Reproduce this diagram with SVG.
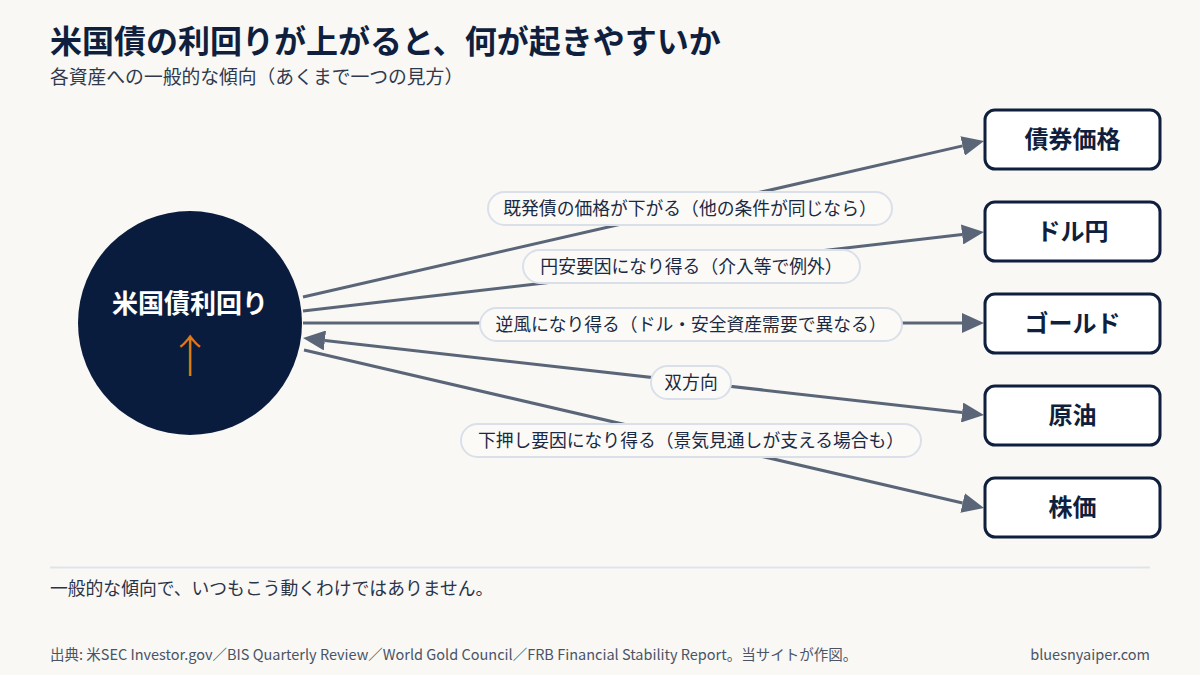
<svg xmlns="http://www.w3.org/2000/svg" width="1200" height="675" viewBox="0 0 1200 675">
<defs>
<style>
.jp{font-family:"Noto Sans CJK JP","Noto Sans",sans-serif;}
.title{font-size:32px;font-weight:700;fill:#0f1f3d;}
.sub{font-size:18.8px;fill:#2f3a4d;}
.box{fill:#ffffff;stroke:#0f1f3d;stroke-width:3;}
.boxt{font-size:24px;font-weight:700;fill:#0f1f3d;text-anchor:middle;}
.conn{stroke:#5a6678;stroke-width:3;fill:none;}
.pill{fill:#fbfaf7;stroke:#d9e0ea;stroke-width:2;}
.pillt{font-size:17.8px;fill:#1a2a44;text-anchor:middle;}
.note{font-size:17.8px;fill:#2a3448;}
.src{font-size:14.5px;fill:#4a5466;}
</style>
<marker id="ah" markerUnits="userSpaceOnUse" viewBox="0 0 22 20" markerWidth="22" markerHeight="20" refX="0" refY="10" orient="auto-start-reverse">
<path d="M0,0 L22,10 L0,20 z" fill="#5a6678"/>
</marker>
</defs>
<rect width="1200" height="675" fill="#f9f8f5"/>
<g id="header">
<text class="jp title" x="50" y="53">米国債の利回りが上がると、何が起きやすいか</text>
<text class="jp sub" x="50" y="84">各資産への一般的な傾向（あくまで一つの見方）</text>
</g>
<g id="connectors">
<line class="conn" x1="303" y1="297" x2="962.6" y2="145.9" marker-end="url(#ah)"/>
<line class="conn" x1="303" y1="311" x2="962.1" y2="234.5" marker-end="url(#ah)"/>
<line class="conn" x1="303" y1="323" x2="962" y2="323" marker-end="url(#ah)"/>
<line class="conn" x1="324.9" y1="340.5" x2="962.1" y2="412.5" marker-start="url(#ah)" marker-end="url(#ah)"/>
<line class="conn" x1="304" y1="350" x2="962.6" y2="503" marker-end="url(#ah)"/>
</g>
<g id="labels">
<g id="label-bond"><rect class="pill" x="488" y="192" width="404" height="33" rx="16.5"/><text class="jp pillt" x="690" y="214.5">既発債の価格が下がる（他の条件が同じなら）</text></g>
<g id="label-usdjpy"><rect class="pill" x="523" y="250" width="337" height="33" rx="16.5"/><text class="jp pillt" x="691.5" y="272.5">円安要因になり得る（介入等で例外）</text></g>
<g id="label-gold"><rect class="pill" x="480" y="308" width="422" height="33" rx="16.5"/><text class="jp pillt" x="691" y="330.5">逆風になり得る（ドル・安全資産需要で異なる）</text></g>
<g id="label-oil"><rect class="pill" x="651" y="366" width="80" height="33" rx="16.5"/><text class="jp pillt" x="691" y="388.5">双方向</text></g>
<g id="label-stock"><rect class="pill" x="461" y="424" width="460" height="33" rx="16.5"/><text class="jp pillt" x="691" y="446.5">下押し要因になり得る（景気見通しが支える場合も）</text></g>
</g>
<g id="node-yield">
<circle cx="190" cy="323" r="112" fill="#0a1c3e"/>
<text class="jp" x="190" y="313" font-size="26" font-weight="700" fill="#ffffff" text-anchor="middle">米国債利回り</text>
<text class="jp" x="190" y="373" font-size="45" font-weight="300" fill="#e07b12" text-anchor="middle">↑</text>
</g>
<g id="node-bond"><rect class="box" x="985" y="110" width="175" height="59" rx="10"/><text class="jp boxt" x="1072.5" y="148">債券価格</text></g>
<g id="node-usdjpy"><rect class="box" x="985" y="202" width="175" height="59" rx="10"/><text class="jp boxt" x="1072.5" y="240">ドル円</text></g>
<g id="node-gold"><rect class="box" x="985" y="294" width="175" height="59" rx="10"/><text class="jp boxt" x="1072.5" y="332">ゴールド</text></g>
<g id="node-oil"><rect class="box" x="985" y="386" width="175" height="59" rx="10"/><text class="jp boxt" x="1072.5" y="424">原油</text></g>
<g id="node-stock"><rect class="box" x="985" y="478" width="175" height="59" rx="10"/><text class="jp boxt" x="1072.5" y="516">株価</text></g>
<g id="footer">
<line x1="50" y1="567.5" x2="1150" y2="567.5" stroke="#dfe4ec" stroke-width="2"/>
<text class="jp note" x="50" y="595">一般的な傾向で、いつもこう動くわけではありません。</text>
<text class="jp src" x="50" y="660">出典: 米SEC Investor.gov／BIS Quarterly Review／World Gold Council／FRB Financial Stability Report。当サイトが作図。</text>
<text class="jp src" x="1150" y="660" text-anchor="end">bluesnyaiper.com</text>
</g>
</svg>
